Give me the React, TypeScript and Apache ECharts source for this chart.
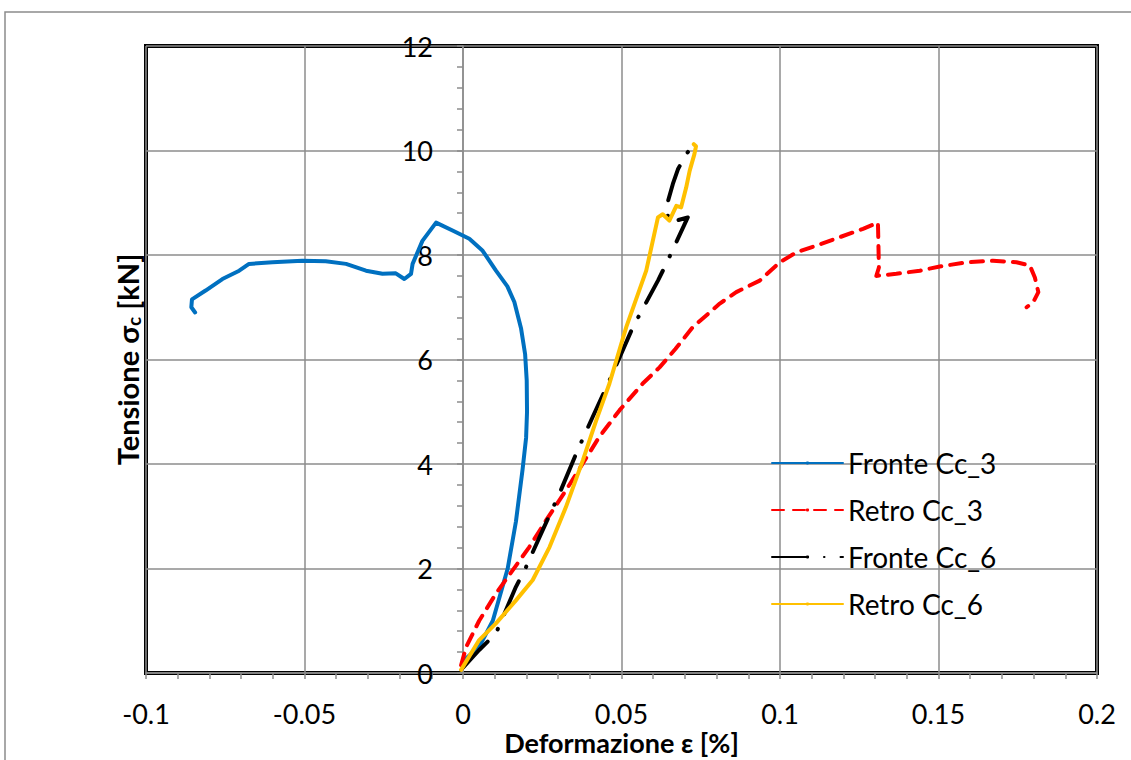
import React, { useEffect, useRef } from "react";
import * as echarts from "echarts";

// Deformazione ε [%] , Tensione σc [kN]
const fronteCc3: [number, number][] = [
  [0.0, 0.15], [0.0004, 0.25], [0.0051, 0.5], [0.0094, 1.0], [0.0141, 2.0], [0.0167, 2.9],
  [0.0188, 3.9], [0.0199, 4.5], [0.0202, 5.0], [0.0201, 5.6], [0.0196, 6.1], [0.0183, 6.6],
  [0.0162, 7.1], [0.014, 7.4], [0.0104, 7.7], [0.0062, 8.08], [0.002, 8.31], [-0.0033, 8.47],
  [-0.0085, 8.62], [-0.0128, 8.27], [-0.0159, 7.83], [-0.0164, 7.64], [-0.0185, 7.54],
  [-0.0212, 7.65], [-0.0254, 7.64], [-0.0306, 7.7], [-0.0369, 7.83], [-0.0433, 7.88],
  [-0.0507, 7.89], [-0.0601, 7.86], [-0.0675, 7.83], [-0.0706, 7.7], [-0.0759, 7.54],
  [-0.0812, 7.32], [-0.0855, 7.15], [-0.0857, 7.0], [-0.0845, 6.9],
];

const retroCc3: [number, number][] = [
  [-0.0006, 0.15], [0.001, 0.5], [0.0051, 1.0], [0.0104, 1.52], [0.0157, 1.97], [0.0209, 2.41],
  [0.0262, 2.92], [0.0325, 3.5], [0.0378, 4.01], [0.043, 4.52], [0.0494, 5.03], [0.0567, 5.54],
  [0.062, 5.85], [0.067, 6.2], [0.0725, 6.62], [0.081, 7.07], [0.0862, 7.29], [0.0936, 7.51],
  [0.0999, 7.86], [0.1052, 8.05], [0.1115, 8.18], [0.1188, 8.34], [0.1262, 8.5], [0.1309, 8.62],
  [0.1312, 7.76], [0.1304, 7.6], [0.1367, 7.64], [0.1441, 7.7], [0.1504, 7.78], [0.1588, 7.86],
  [0.1672, 7.89], [0.1746, 7.86], [0.1788, 7.8], [0.1804, 7.57], [0.1815, 7.29], [0.1799, 7.1],
  [0.1778, 7.0],
];

const fronteCc6: [number, number][] = [
  [0.0, 0.1], [0.0051, 0.44], [0.0104, 0.76], [0.0167, 1.65], [0.0199, 2.03], [0.0251, 2.73],
  [0.0304, 3.43], [0.0357, 4.2], [0.0409, 4.9], [0.0462, 5.6], [0.0536, 6.62], [0.0615, 7.51],
  [0.0641, 7.83], [0.0709, 8.72], [0.0651, 8.62], [0.0641, 8.91], [0.0662, 9.36], [0.0678, 9.64],
  [0.0704, 9.93], [0.0725, 10.09],
];

const retroCc6: [number, number][] = [
  [-0.0006, 0.06], [0.0051, 0.63], [0.0104, 0.95], [0.0167, 1.39], [0.022, 1.78], [0.0273, 2.41],
  [0.0325, 3.18], [0.0378, 4.07], [0.042, 4.83], [0.0462, 5.54], [0.0515, 6.62], [0.0578, 7.7],
  [0.0615, 8.72], [0.063, 8.78], [0.0651, 8.66], [0.0673, 8.94], [0.0688, 8.91], [0.0704, 9.29],
  [0.0715, 9.61], [0.073, 9.93], [0.0735, 10.08], [0.0728, 10.12],
];

const seriesNames = ["Fronte Cc_3", "Retro Cc_3", "Fronte Cc_6", "Retro Cc_6"];
const xMin = -0.1;
const xMax = 0.2;
const yMin = 0;
const yMax = 12;

const FONT = "Lato, 'Open Sans', 'Liberation Sans', sans-serif";
const GRID_GRAY = "#8c8c8c";
const GRID_LEFT = 146;
const GRID_RIGHT = 34;
const CHART_W = 1131;

export default function App() {
  const ref = useRef<HTMLDivElement>(null);
  useEffect(() => {
    if (!ref.current) return;
    const chart = echarts.init(ref.current, undefined, { renderer: "svg" });
    // place the y axis on x = 0 (offset measured from the grid's left edge)
    const plotW = CHART_W - GRID_LEFT - GRID_RIGHT;
    const zeroOffset = ((0 - xMin) / (xMax - xMin)) * plotW;
    chart.setOption({
      animation: false,
      backgroundColor: "#fff",
      textStyle: { fontFamily: FONT },
      graphic: [
        {
          type: "rect",
          shape: { x: 5, y: 12, width: 1200, height: 800 },
          style: { fill: "none", stroke: "#8c8c8c", lineWidth: 1.5 },
          silent: true,
          z: -10,
        },
      ],
      grid: {
        left: GRID_LEFT,
        right: GRID_RIGHT,
        top: 46,
        bottom: 87,
        show: true,
        borderColor: "#000",
        borderWidth: 4,
        containLabel: false,
        outerBoundsMode: "none",
      },
      legend: {
        orient: "vertical",
        left: 766,
        top: 443,
        itemWidth: 71,
        itemHeight: 4,
        itemGap: 17,
        data: seriesNames,
        textStyle: { fontFamily: FONT, fontSize: 28, color: "#000", lineHeight: 30 },
      },
      xAxis: {
        type: "value",
        min: xMin,
        max: xMax,
        interval: 0.05,
        name: "Deformazione ε [%]",
        nameLocation: "middle",
        nameGap: 55,
        nameMoveOverlap: false,
        nameTextStyle: { fontFamily: FONT, fontSize: 27, fontWeight: "bold", color: "#000", lineHeight: 28 },
        axisLine: { show: true, onZero: false, lineStyle: { color: GRID_GRAY, width: 1.5 } },
        axisTick: { show: true, length: 6, lineStyle: { color: GRID_GRAY, width: 1.5 } },
        minorTick: { show: true, splitNumber: 5, length: 6, lineStyle: { color: GRID_GRAY, width: 1.5 } },
        splitLine: { show: true, lineStyle: { color: GRID_GRAY, width: 1.5 } },
        axisLabel: {
          fontFamily: FONT,
          fontSize: 27,
          lineHeight: 26,
          color: "#000",
          margin: 27,
          formatter: (v: number) => String(Math.round(v * 100) / 100),
        },
      },
      yAxis: {
        type: "value",
        min: yMin,
        max: yMax,
        interval: 2,
        offset: -zeroOffset,
        name: "Tensione σ{sub|c} [kN]",
        nameLocation: "middle",
        nameRotate: 90,
        nameGap: 320,
        nameTextStyle: {
          fontFamily: FONT,
          fontSize: 29,
          fontWeight: "bold",
          color: "#000",
          rich: {
            sub: { fontFamily: FONT, fontSize: 19, fontWeight: "bold", color: "#000", padding: [13, 0, 0, 0] },
          },
        },
        axisLine: { show: true, onZero: false, lineStyle: { color: GRID_GRAY, width: 1.5 } },
        axisTick: { show: true, length: 6, lineStyle: { color: GRID_GRAY, width: 1.5 } },
        minorTick: { show: true, splitNumber: 5, length: 6, lineStyle: { color: GRID_GRAY, width: 1.5 } },
        splitLine: { show: true, lineStyle: { color: GRID_GRAY, width: 1.5 } },
        axisLabel: { fontFamily: FONT, fontSize: 27, color: "#000", margin: 30 },
      },
      series: [
        {
          name: seriesNames[0],
          type: "line",
          data: fronteCc3,
          showSymbol: false,
          symbol: "none",
          color: "#0070C0",
          lineStyle: { color: "#0070C0", width: 4, cap: "round", join: "round" },
          z: 3,
        },
        {
          name: seriesNames[1],
          type: "line",
          data: retroCc3,
          showSymbol: false,
          symbol: "none",
          color: "#FF0000",
          lineStyle: { color: "#FF0000", width: 4, type: [12, 9], cap: "round", join: "round" },
          z: 4,
        },
        {
          name: seriesNames[2],
          type: "line",
          data: fronteCc6,
          showSymbol: false,
          symbol: "none",
          color: "#000",
          lineStyle: { color: "#000", width: 4, type: [36, 16, 0.5, 16], cap: "round", join: "round" },
          z: 5,
        },
        {
          name: seriesNames[3],
          type: "line",
          data: retroCc6,
          showSymbol: false,
          symbol: "none",
          color: "#FFC000",
          lineStyle: { color: "#FFC000", width: 4, cap: "round", join: "round" },
          z: 6,
        },
      ],
    });
    return () => chart.dispose();
  }, []);
  return (
    <div
      ref={ref}
      style={{ position: "absolute", left: 0, top: 0, width: CHART_W, height: 760 }}
    />
  );
}
